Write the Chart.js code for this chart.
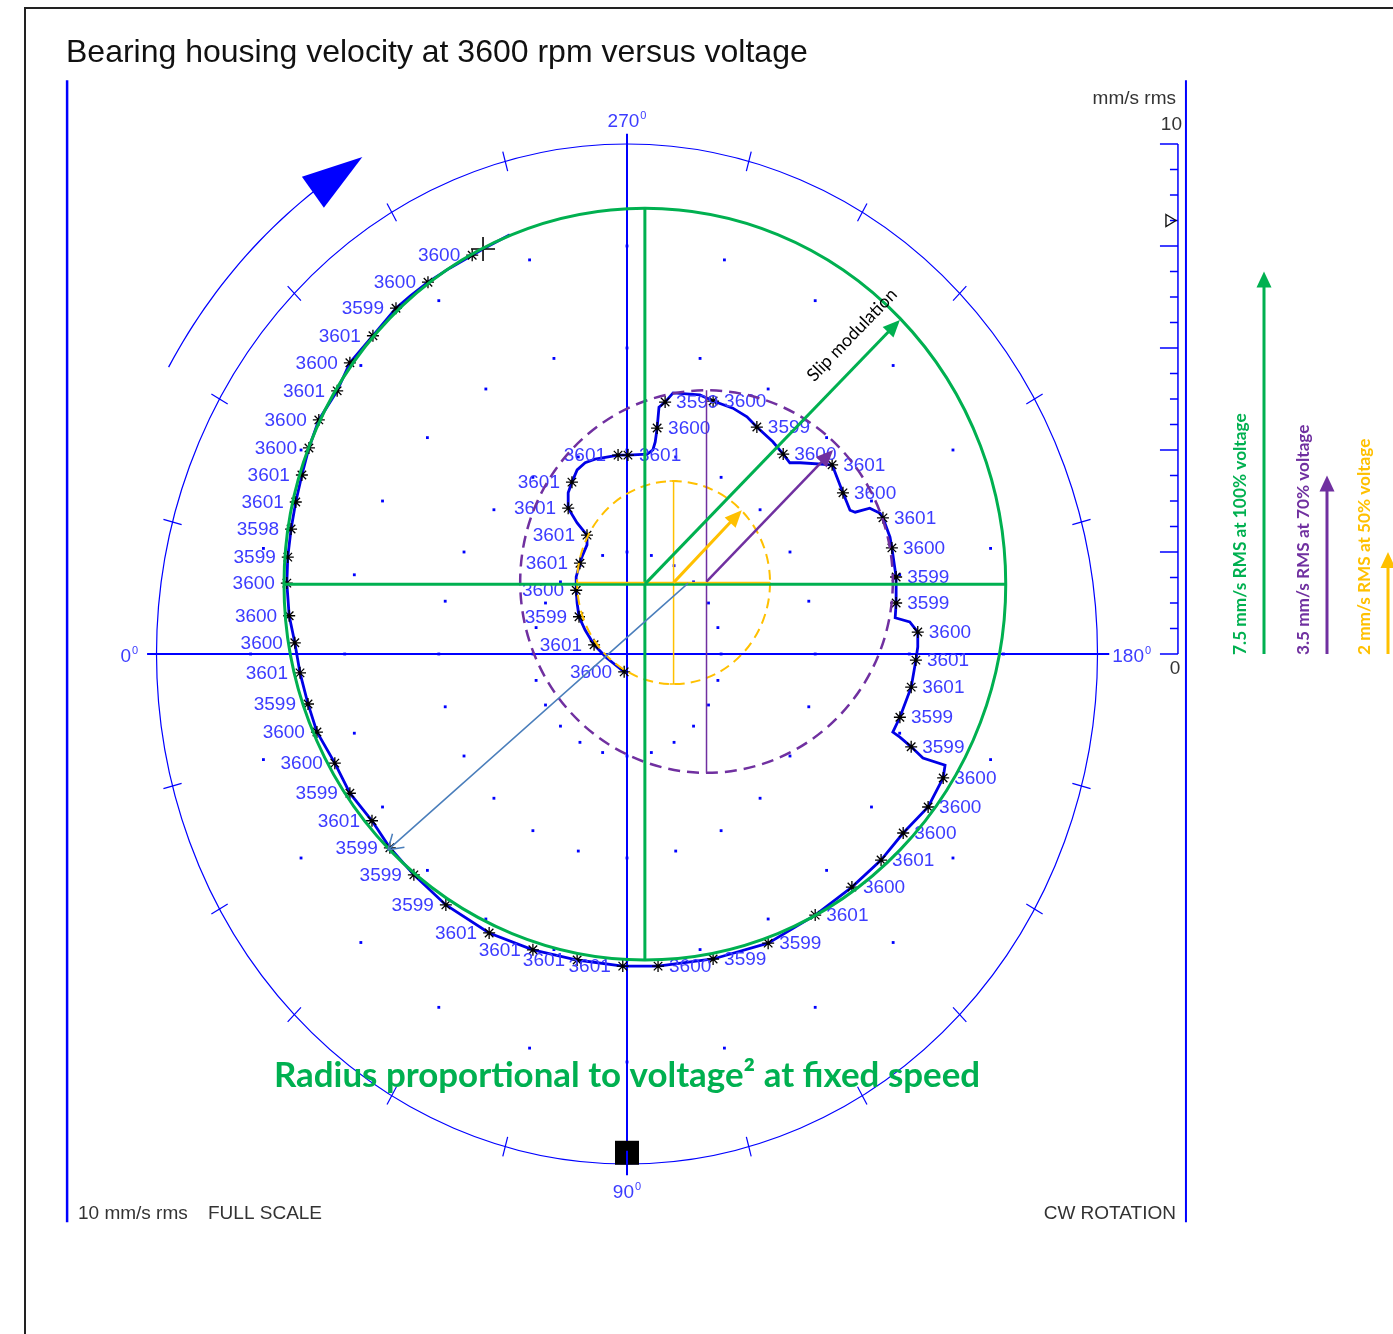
<!DOCTYPE html>
<html>
<head>
<meta charset="utf-8">
<title>Bearing housing velocity at 3600 rpm versus voltage</title>
<script src="https://cdn.jsdelivr.net/npm/chart.js@4"></script>
<style>
  html, body { margin: 0; padding: 0; background: #fff; }
  #wrap { position: relative; width: 1393px; height: 1334px; }
</style>
</head>
<body>
<div id="wrap"><canvas id="polarChart"></canvas></div>
<script>
// ---- data: velocity vector in mm/s rms, x to the right, y up, 10 mm/s full scale ----
const fullScale = 10;
const gridRadii = [2, 4, 6, 8];
const gridStepDeg = 15;
const angleLabels = ['0', '90', '180', '270'];
const scaleBarMarker = 8.5;

// vector trace logged while the supply voltage is stepped down
const traceX = [-2.49, -3.06, -3.29, -3.76, -4.23, -4.61, -4.91, -5.40, -5.89, -6.16,
  -6.55, -6.76, -6.91, -7.04, -7.14, -7.21, -7.23, -7.18, -7.06, -6.95,
  -6.78, -6.59, -6.21, -5.89, -5.42, -5.04, -4.53, -3.85, -2.93, -2.00,
  -1.06, -0.09, 0.66, 1.83, 3.00, 4.00, 4.78, 5.40, 5.87, 6.40,
  6.72, 6.76, 6.29, 6.04, 5.80, 5.65, 5.80, 6.04, 6.14, 6.18,
  6.18, 6.01, 5.70, 5.72, 5.72, 5.63, 5.59, 5.44, 5.38, 5.16,
  4.85, 4.74, 4.59, 4.36, 3.68, 3.46, 3.32, 3.10, 2.76, 2.55,
  2.25, 1.83, 1.55, 0.98, 0.81, 0.68, 0.64, 0.60, 0.55, 0.43,
  0.02, -0.19, -0.43, -0.68, -0.89, -1.06, -1.17, -1.25, -1.25, -1.06,
  -0.85, -0.85, -0.96, -1.00, -1.08, -1.08, -1.06, -1.02, -0.89, -0.70, -0.43, -0.06];
const traceY = [8.22, 7.94, 7.82, 7.57, 7.29, 7.02, 6.78, 6.24, 5.71, 5.16,
  4.59, 4.04, 3.51, 2.98, 2.45, 1.90, 1.39, 0.75, 0.22, -0.37,
  -0.98, -1.53, -2.14, -2.73, -3.27, -3.80, -4.33, -4.92, -5.47, -5.80,
  -6.00, -6.12, -6.12, -5.98, -5.67, -5.12, -4.57, -4.04, -3.51, -3.00,
  -2.43, -2.18, -2.04, -1.82, -1.63, -1.53, -1.24, -0.65, -0.12, 0.14,
  0.43, 0.63, 0.71, 1.00, 1.51, 2.08, 2.29, 2.67, 2.76, 2.86,
  2.78, 2.82, 3.16, 3.71, 3.75, 3.75, 3.92, 4.16, 4.45, 4.65,
  4.82, 4.96, 5.08, 5.12, 4.94, 4.84, 4.43, 4.16, 4.00, 3.92,
  3.90, 3.90, 3.86, 3.82, 3.75, 3.61, 3.37, 3.16, 2.86, 2.57,
  2.33, 2.14, 1.90, 1.78, 1.51, 1.25, 1.00, 0.73, 0.47, 0.18, -0.08, -0.35];

// speed samples (rpm) tagged along the trace
const speedX = [-3.29, -4.23, -4.91, -5.40, -5.89, -6.16, -6.55, -6.76, -6.91, -7.04,
  -7.14, -7.21, -7.23, -7.18, -7.06, -6.95, -6.78, -6.59, -6.21, -5.89,
  -5.42, -5.04, -4.53, -3.85, -2.93, -2.00, -1.06, -0.09, 0.66, 1.83,
  3.00, 4.00, 4.78, 5.40, 5.87, 6.40, 6.72, 6.04, 5.80, 6.04,
  6.14, 6.18, 5.72, 5.72, 5.63, 5.44, 4.59, 4.36, 3.32, 2.76,
  1.83, 0.81, 0.64, 0.02, -0.19, -1.17, -1.25, -0.85, -1.00, -1.08,
  -1.02, -0.70, -0.06];
const speedY = [7.82, 7.29, 6.78, 6.24, 5.71, 5.16, 4.59, 4.04, 3.51, 2.98,
  2.45, 1.90, 1.39, 0.75, 0.22, -0.37, -0.98, -1.53, -2.14, -2.73,
  -3.27, -3.80, -4.33, -4.92, -5.47, -5.80, -6.00, -6.12, -6.12, -5.98,
  -5.67, -5.12, -4.57, -4.04, -3.51, -3.00, -2.43, -1.82, -1.24, -0.65,
  -0.12, 0.43, 1.00, 1.51, 2.08, 2.67, 3.16, 3.71, 3.92, 4.45,
  4.96, 4.94, 4.43, 3.90, 3.90, 3.37, 2.86, 2.33, 1.78, 1.25,
  0.73, 0.18, -0.35];
const speedRpm = [3600, 3600, 3599, 3601, 3600, 3601, 3600, 3600, 3601, 3601,
  3598, 3599, 3600, 3600, 3600, 3601, 3599, 3600, 3600, 3599,
  3601, 3599, 3599, 3599, 3601, 3601, 3601, 3601, 3600, 3599,
  3599, 3601, 3600, 3601, 3600, 3600, 3600, 3599, 3599, 3601,
  3601, 3600, 3599, 3599, 3600, 3601, 3600, 3601, 3600, 3599,
  3600, 3599, 3600, 3601, 3601, 3601, 3601, 3601, 3601, 3600,
  3599, 3601, 3600];

// reference mark (keyphasor) on the rim
const refMarkAngle = 90;
const refMarkRadius = 9.78;

// circles fitted by hand to the trace at 100 %, 70 % and 50 % voltage
const voltageLevels = ['100%', '70%', '50%'];
const rmsAtVoltage = [7.5, 3.5, 2];
const circleCx = [0.38, 1.69, 0.99];
const circleCy = [1.37, 1.42, 1.40];
const circleRx = [7.67, 3.96, 2.05];
const circleRy = [7.37, 3.75, 1.99];
const radiusTipX = [5.80, 4.38, 2.44];
const radiusTipY = [6.55, 4.00, 2.82];
// slip modulation pointer
const slipFrom = [1.30, 1.39];
const slipTo = [-5.08, -3.84];

// ---- layout ----
const BLUE = '#0000ff';
const LABEL_BLUE = '#3c3cff';
const GREEN = '#00b050';
const PURPLE = '#7030a0';
const ORANGE = '#ffc000';
const STEEL = '#4a7ebb';
const GREY = '#333333';
const SANS = '"Liberation Sans", Arial, sans-serif';
const CAL = 'Lato, "Open Sans", sans-serif';
const overlayColors = [GREEN, PURPLE, ORANGE];
const legendArrowX = [1264, 1327, 1388];
const barX = 11.71;

function polar(r, deg) {
  const a = deg * Math.PI / 180;
  return { x: -r * Math.cos(a), y: -r * Math.sin(a) };
}

function fitFont(ctx, text, weight, family, width) {
  ctx.font = `${weight} 100px ${family}`;
  const size = 100 * width / ctx.measureText(text).width;
  return `${weight} ${size.toFixed(1)}px ${family}`;
}

function drawArrow(ctx, x1, y1, x2, y2, color, width, head, headWidth, open) {
  const ang = Math.atan2(y2 - y1, x2 - x1);
  const c = Math.cos(ang), s = Math.sin(ang);
  ctx.save();
  ctx.strokeStyle = color;
  ctx.fillStyle = color;
  ctx.lineWidth = width;
  ctx.setLineDash([]);
  ctx.beginPath();
  ctx.moveTo(x1, y1);
  ctx.lineTo(open ? x2 : x2 - c * head * 0.7, open ? y2 : y2 - s * head * 0.7);
  ctx.stroke();
  const bx = x2 - c * head, by = y2 - s * head;
  const nx = -s * headWidth / 2, ny = c * headWidth / 2;
  ctx.beginPath();
  ctx.moveTo(bx + nx, by + ny);
  ctx.lineTo(x2, y2);
  ctx.lineTo(bx - nx, by - ny);
  if (open) {
    ctx.lineWidth = width;
    ctx.stroke();
  } else {
    ctx.closePath();
    ctx.fill();
  }
  ctx.restore();
}

function degreeLabel(ctx, text, x, y, align) {
  const big = `19px ${SANS}`, small = `11px ${SANS}`;
  ctx.font = big;
  const w = ctx.measureText(text).width;
  ctx.font = small;
  const total = w + 1 + ctx.measureText('0').width;
  const left = align === 'center' ? x - total / 2 : align === 'right' ? x - total : x;
  ctx.textAlign = 'left';
  ctx.textBaseline = 'alphabetic';
  ctx.font = big;
  ctx.fillText(text, left, y);
  ctx.font = small;
  ctx.fillText('0', left + w + 1, y - 8);
}

// rim, ticks, cross hairs, scale bar and fixed captions
const polarFrame = {
  id: 'polarFrame',
  beforeDatasetsDraw(chart) {
    const { ctx } = chart;
    const X = v => chart.scales.x.getPixelForValue(v);
    const Y = v => chart.scales.y.getPixelForValue(v);
    const cx = X(0), cy = Y(0);
    const rx = X(fullScale) - cx, ry = cy - Y(fullScale);
    ctx.save();

    // page box
    ctx.strokeStyle = '#222';
    ctx.lineWidth = 2;
    ctx.beginPath();
    ctx.moveTo(25, chart.height);
    ctx.lineTo(25, 8);
    ctx.lineTo(chart.width, 8);
    ctx.stroke();

    // side rules of the plot window
    ctx.strokeStyle = BLUE;
    ctx.lineWidth = 2.5;
    ctx.beginPath();
    ctx.moveTo(X(-11.90), Y(11.25)); ctx.lineTo(X(-11.90), Y(-11.14));
    ctx.stroke();
    ctx.lineWidth = 2;
    ctx.beginPath();
    ctx.moveTo(X(11.88), Y(11.25)); ctx.lineTo(X(11.88), Y(-11.14));
    ctx.stroke();

    // full scale rim
    ctx.lineWidth = 1.2;
    ctx.beginPath();
    ctx.ellipse(cx, cy, rx, ry, 0, 0, Math.PI * 2);
    ctx.stroke();

    // rim ticks every 15 degrees
    for (let a = 0; a < 360; a += gridStepDeg) {
      if (a % 90 === 0) continue;
      const p1 = polar(fullScale - 0.2, a), p2 = polar(fullScale + 0.2, a);
      ctx.beginPath();
      ctx.moveTo(X(p1.x), Y(p1.y));
      ctx.lineTo(X(p2.x), Y(p2.y));
      ctx.stroke();
    }

    // cross hairs
    ctx.lineWidth = 2;
    ctx.beginPath();
    ctx.moveTo(X(-fullScale - 0.2), cy); ctx.lineTo(X(fullScale + 0.25), cy);
    ctx.moveTo(cx, Y(fullScale + 0.2)); ctx.lineTo(cx, Y(-fullScale - 0.22));
    ctx.stroke();

    // angle captions
    ctx.fillStyle = LABEL_BLUE;
    degreeLabel(ctx, angleLabels[0], X(-fullScale - 0.2) - 9, cy + 8, 'right');
    degreeLabel(ctx, angleLabels[1], cx, Y(-fullScale - 0.22) + 23, 'center');
    degreeLabel(ctx, angleLabels[2], X(fullScale + 0.25) + 3, cy + 8, 'left');
    degreeLabel(ctx, angleLabels[3], cx, Y(fullScale + 0.2) - 7, 'center');

    // rotation direction arrow
    const arcR = 11.25;
    ctx.strokeStyle = BLUE;
    ctx.lineWidth = 1.3;
    ctx.beginPath();
    for (let a = 330; a >= 306; a -= 1) {
      const p = polar(arcR, a);
      if (a === 330) ctx.moveTo(X(p.x), Y(p.y)); else ctx.lineTo(X(p.x), Y(p.y));
    }
    ctx.stroke();
    const tip = polar(arcR, 300), base = polar(arcR, 306.4);
    const tx = X(tip.x), ty = Y(tip.y), bx = X(base.x), by = Y(base.y);
    const ang = Math.atan2(ty - by, tx - bx);
    const nx = -Math.sin(ang) * 19, ny = Math.cos(ang) * 19;
    ctx.fillStyle = BLUE;
    ctx.beginPath();
    ctx.moveTo(bx + nx, by + ny);
    ctx.lineTo(tx, ty);
    ctx.lineTo(bx - nx, by - ny);
    ctx.closePath();
    ctx.fill();

    // magnitude bar 0..10 on the right
    const bxp = X(barX);
    ctx.strokeStyle = BLUE;
    ctx.lineWidth = 1.5;
    ctx.beginPath();
    ctx.moveTo(bxp, Y(0)); ctx.lineTo(bxp, Y(fullScale));
    for (let v = 0; v <= fullScale + 1e-6; v += 0.5) {
      const len = Math.abs(v % 2) < 1e-6 ? 18 : 8;
      ctx.moveTo(bxp - len, Y(v)); ctx.lineTo(bxp, Y(v));
    }
    ctx.stroke();
    // current level marker
    const my = Y(scaleBarMarker);
    ctx.strokeStyle = '#111';
    ctx.lineWidth = 1.4;
    ctx.beginPath();
    ctx.moveTo(bxp - 12, my - 6); ctx.lineTo(bxp - 2, my); ctx.lineTo(bxp - 12, my + 6);
    ctx.closePath();
    ctx.stroke();

    ctx.fillStyle = GREY;
    ctx.font = `19px ${SANS}`;
    ctx.textBaseline = 'alphabetic';
    ctx.textAlign = 'right';
    ctx.fillText('mm/s rms', bxp - 2, Y(fullScale) - 40);
    ctx.fillText('10', bxp + 4, Y(fullScale) - 14);
    ctx.textAlign = 'center';
    ctx.fillText('0', bxp - 3, Y(0) + 20);

    // footer captions
    ctx.textAlign = 'left';
    ctx.fillText('10 mm/s rms', 78, 1219);
    ctx.fillText('FULL SCALE', 208, 1219);
    ctx.textAlign = 'right';
    ctx.fillText('CW ROTATION', bxp - 2, 1219);

    // title
    ctx.fillStyle = '#111';
    ctx.textAlign = 'left';
    ctx.font = `32px ${SANS}`;
    ctx.fillText('Bearing housing velocity at 3600 rpm versus voltage', 66, 62);
    ctx.restore();
  },

  afterDatasetsDraw(chart) {
    const { ctx } = chart;
    const X = v => chart.scales.x.getPixelForValue(v);
    const Y = v => chart.scales.y.getPixelForValue(v);
    ctx.save();

    // rpm tags beside each sample
    ctx.fillStyle = LABEL_BLUE;
    ctx.font = `19px ${SANS}`;
    ctx.textBaseline = 'middle';
    speedRpm.forEach((rpm, i) => {
      const x = X(speedX[i]), y = Y(speedY[i]) + 1;
      if (speedX[i] < 0) {
        ctx.textAlign = 'right';
        ctx.fillText(String(rpm), x - 12, y);
      } else {
        ctx.textAlign = 'left';
        ctx.fillText(String(rpm), x + 11, y);
      }
    });

    // start of log
    const sx = X(traceX[1]), sy = Y(traceY[1]);
    ctx.strokeStyle = '#000';
    ctx.lineWidth = 1.6;
    ctx.beginPath();
    ctx.moveTo(sx - 12, sy); ctx.lineTo(sx + 12, sy);
    ctx.moveTo(sx, sy - 12); ctx.lineTo(sx, sy + 12);
    ctx.stroke();

    // reference mark
    const rm = polar(refMarkRadius, refMarkAngle);
    ctx.fillStyle = '#000';
    ctx.fillRect(X(rm.x) - 12, Y(rm.y) - 12, 24, 24);
    ctx.strokeStyle = BLUE;
    ctx.lineWidth = 2;
    ctx.beginPath();
    ctx.moveTo(X(rm.x), Y(rm.y) - 2); ctx.lineTo(X(rm.x), Y(rm.y) + 12);
    ctx.stroke();

    // fitted circles and their vertical diameters
    [2, 1, 0].forEach(i => {
      const cx = X(circleCx[i]), cy = Y(circleCy[i]);
      const rx = X(circleCx[i] + circleRx[i]) - cx;
      const ry = cy - Y(circleCy[i] + circleRy[i]);
      ctx.strokeStyle = overlayColors[i];
      if (i === 0) {
        ctx.setLineDash([]);
        ctx.lineWidth = 3;
      } else if (i === 1) {
        ctx.setLineDash([12, 7]);
        ctx.lineWidth = 2.5;
      } else {
        ctx.setLineDash([10, 6]);
        ctx.lineWidth = 2;
      }
      ctx.beginPath();
      ctx.ellipse(cx, cy, rx, ry, 0, 0, Math.PI * 2);
      ctx.stroke();
      ctx.setLineDash([]);

      ctx.lineWidth = i === 0 ? 3 : 1.5;
      ctx.beginPath();
      ctx.moveTo(cx, cy - ry); ctx.lineTo(cx, cy + ry);
      if (i === 2) {
        ctx.moveTo(cx - 4, cy - ry); ctx.lineTo(cx + 4, cy - ry);
        ctx.moveTo(cx - 4, cy + ry); ctx.lineTo(cx + 4, cy + ry);
      }
      ctx.stroke();
    });

    // horizontal diameters (green under the 50 % one)
    [0, 2].forEach(i => {
      const cx = X(circleCx[i]), cy = Y(circleCy[i]);
      const rx = X(circleCx[i] + circleRx[i]) - cx;
      ctx.strokeStyle = overlayColors[i];
      ctx.lineWidth = i === 0 ? 3 : 1.5;
      ctx.beginPath();
      ctx.moveTo(cx - rx, cy); ctx.lineTo(cx + rx, cy);
      ctx.stroke();
    });

    // slip modulation pointer
    drawArrow(ctx, X(slipFrom[0]), Y(slipFrom[1]), X(slipTo[0]), Y(slipTo[1]), STEEL, 1.5, 14, 18, true);

    // radius arrows
    [2, 1, 0].forEach(i => {
      drawArrow(ctx, X(circleCx[i]), Y(circleCy[i]), X(radiusTipX[i]), Y(radiusTipY[i]),
        overlayColors[i], i === 1 ? 2.5 : 3, 17, 15, false);
    });

    // caption along the 100 % radius
    const gx1 = X(circleCx[0]), gy1 = Y(circleCy[0]);
    const gx2 = X(radiusTipX[0]), gy2 = Y(radiusTipY[0]);
    const glen = Math.hypot(gx2 - gx1, gy2 - gy1);
    const dx = (gx2 - gx1) / glen, dy = (gy2 - gy1) / glen;
    const tcx = gx1 + dx * glen * 0.88 + dy * 24;
    const tcy = gy1 + dy * glen * 0.88 - dx * 24;
    ctx.save();
    ctx.translate(tcx, tcy);
    ctx.rotate(Math.atan2(dy, dx));
    ctx.fillStyle = '#000';
    ctx.font = fitFont(ctx, 'Slip modulation', 'normal', CAL, 121);
    ctx.textAlign = 'center';
    ctx.textBaseline = 'middle';
    ctx.fillText('Slip modulation', 0, 0);
    ctx.restore();

    // green caption under the plot
    const note = 'Radius proportional to voltage\u00b2 at fixed speed';
    ctx.fillStyle = GREEN;
    ctx.font = fitFont(ctx, note, 'bold', CAL, 706);
    ctx.textAlign = 'center';
    ctx.textBaseline = 'alphabetic';
    ctx.fillText(note, X(0), 1087);

    // rms legend arrows on the right, measured on the 0..10 bar
    const legendLen = [242, 230, 217];
    rmsAtVoltage.forEach((v, i) => {
      const ax = legendArrowX[i];
      drawArrow(ctx, ax, Y(0), ax, Y(v), overlayColors[i], 3, 16, 15, false);
      const text = `${v} mm/s RMS at ${voltageLevels[i]} voltage`;
      ctx.save();
      ctx.translate(ax - 24, Y(0) + 1);
      ctx.rotate(-Math.PI / 2);
      ctx.fillStyle = overlayColors[i];
      ctx.font = fitFont(ctx, text, 'bold', CAL, legendLen[i]);
      ctx.textAlign = 'left';
      ctx.textBaseline = 'middle';
      ctx.fillText(text, 0, 0);
      ctx.restore();
    });

    ctx.restore();
  }
};

const tracePoints = traceX.map((x, i) => ({ x, y: traceY[i] }));
const speedPoints = speedX.map((x, i) => ({ x, y: speedY[i] }));
const gridDots = [];
gridRadii.forEach(r => {
  for (let a = 0; a < 360; a += gridStepDeg) gridDots.push(polar(r, a));
});

// 47.05 px per mm/s across, 51 px per mm/s up and down, centre at (627, 654)
new Chart(document.getElementById('polarChart'), {
  type: 'scatter',
  data: {
    datasets: [
      {
        label: 'rpm samples',
        data: speedPoints,
        pointStyle: 'star',
        pointRadius: 6,
        borderColor: '#000',
        borderWidth: 1.3,
        order: 0
      },
      {
        label: 'velocity vector',
        data: tracePoints,
        showLine: true,
        pointRadius: 0,
        borderColor: '#0000e6',
        borderWidth: 2.8,
        tension: 0,
        order: 1
      },
      {
        label: 'grid',
        data: gridDots,
        pointStyle: 'rect',
        pointRadius: 2,
        backgroundColor: BLUE,
        borderWidth: 0,
        order: 2
      }
    ]
  },
  options: {
    animation: false,
    responsive: true,
    maintainAspectRatio: false,
    events: [],
    layout: { padding: 0, autoPadding: false },
    plugins: {
      legend: { display: false },
      tooltip: { enabled: false }
    },
    scales: {
      x: { type: 'linear', min: -627 / 47.05, max: (1393 - 627) / 47.05, display: false },
      y: { type: 'linear', min: -(1334 - 654) / 51, max: 654 / 51, display: false }
    }
  },
  plugins: [polarFrame]
});
</script>
</body>
</html>
